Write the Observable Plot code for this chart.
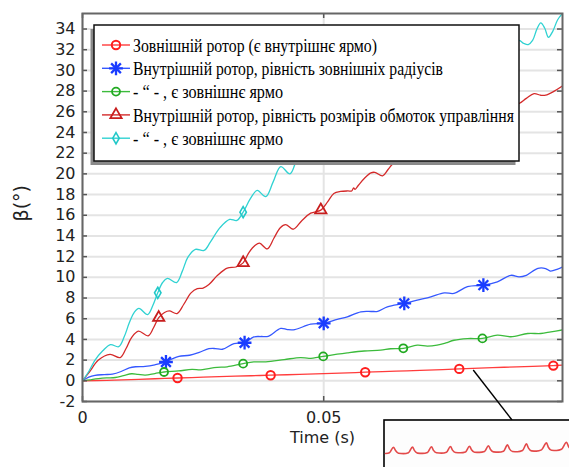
<!DOCTYPE html>
<html><head><meta charset="utf-8">
<script src="https://cdn.jsdelivr.net/npm/d3@7"></script>
<script src="https://cdn.jsdelivr.net/npm/@observablehq/plot@0.6"></script>
<style>
body{margin:0;background:#fff;}
#wrap{position:relative;width:569px;height:467px;overflow:hidden;background:#fff;}
.legtxt{position:absolute;white-space:nowrap;font-family:"Liberation Serif",serif;font-size:19px;line-height:19px;color:#000;transform-origin:0 50%;}
</style></head><body><div id="wrap"></div>
<script>
// ---- data (t in s, beta in degrees) ----
const seriesNames = [
  "Зовнішній ротор (є внутрішнє ярмо)",
  "Внутрішній ротор, рівність зовнішніх радіусів",
  "- \u201c - , є зовнішнє ярмо",
  "Внутрішній ротор, рівність розмірів обмоток управління",
  "- \u201c - , є зовнішнє ярмо"
];
const extRotor = [[0,0],[0.005,0.05],[0.010,0.12],[0.015,0.2],[0.0197,0.27],[0.025,0.35],[0.030,0.42],[0.035,0.49],[0.039,0.54],[0.045,0.62],[0.050,0.69],[0.055,0.77],[0.0586,0.83],[0.065,0.93],[0.070,1.01],[0.0781,1.15],[0.085,1.27],[0.090,1.35],[0.0976,1.47],[0.0995,1.51]];
const extRotorMarks = [[0.0197,0.27],[0.039,0.54],[0.0586,0.83],[0.0781,1.15],[0.0976,1.47]];

const intRadii = [[0,0],[0.0013,0.35],[0.0026,0.53],[0.0045,0.6],[0.0062,0.65],[0.0080,0.9],[0.0097,1.25],[0.0110,1.36],[0.0130,1.4],[0.0150,1.55],[0.0173,1.82],[0.0187,2.15],[0.0200,2.37],[0.0222,2.47],[0.0242,2.75],[0.0262,3.1],[0.0275,3.12],[0.0290,3.05],[0.0314,3.6],[0.0336,3.68],[0.0355,4.24],[0.0370,4.28],[0.0385,4.3],[0.0411,5.06],[0.0425,4.95],[0.0440,4.95],[0.0473,5.47],[0.0500,5.56],[0.0528,5.93],[0.0549,6.18],[0.0577,6.67],[0.0600,6.7],[0.0612,6.72],[0.0632,7.15],[0.0667,7.48],[0.0694,7.8],[0.0722,8.12],[0.0750,8.5],[0.0770,8.45],[0.0798,9.1],[0.0831,9.25],[0.0860,9.57],[0.0888,10.2],[0.0905,10.05],[0.0920,10.2],[0.0944,10.87],[0.0960,10.85],[0.0970,10.6],[0.0985,10.8],[0.0995,11.0]];
const intRadiiMarks = [[0.0173,1.82],[0.0336,3.68],[0.0500,5.56],[0.0667,7.48],[0.0831,9.25]];

const intRadiiYoke = [[0,0],[0.0015,0.1],[0.0033,0.21],[0.0050,0.28],[0.0068,0.32],[0.0085,0.5],[0.0102,0.68],[0.0115,0.62],[0.0130,0.55],[0.0150,0.7],[0.0169,0.85],[0.0199,0.95],[0.0227,1.1],[0.0245,1.05],[0.0261,1.18],[0.0279,1.3],[0.0300,1.35],[0.0333,1.66],[0.0355,1.82],[0.0380,1.83],[0.0418,2.05],[0.0452,2.25],[0.0470,2.17],[0.0499,2.36],[0.0528,2.57],[0.0549,2.7],[0.0584,2.88],[0.0618,2.96],[0.0639,3.1],[0.0665,3.14],[0.0694,3.44],[0.0715,3.36],[0.0735,3.45],[0.0753,3.66],[0.0770,3.92],[0.0798,4.08],[0.0829,4.1],[0.0860,4.41],[0.0888,4.26],[0.0923,4.57],[0.0950,4.57],[0.0971,4.73],[0.0995,4.92]];
const intRadiiYokeMarks = [[0.0169,0.85],[0.0333,1.66],[0.0499,2.36],[0.0665,3.14],[0.0829,4.1]];

const intWinding = [[0,0],[0.0015,0.9],[0.0033,2.0],[0.0057,2.55],[0.0078,2.25],[0.0090,3.1],[0.0102,4.2],[0.0116,4.8],[0.0136,4.35],[0.0147,5.1],[0.0158,6.1],[0.0170,6.6],[0.0180,6.75],[0.0196,6.5],[0.0210,7.4],[0.0225,8.5],[0.0238,8.9],[0.0250,8.95],[0.0262,9.3],[0.0280,10.2],[0.0300,10.9],[0.0318,11.0],[0.0333,11.4],[0.0345,12.4],[0.0358,13.1],[0.0367,13.3],[0.0383,12.75],[0.0397,13.8],[0.0410,14.8],[0.0421,15.1],[0.0437,14.65],[0.0455,15.5],[0.0473,16.2],[0.0494,16.5],[0.0508,17.3],[0.0521,18.1],[0.0535,18.3],[0.0550,18.35],[0.0558,18.35],[0.0562,18.65],[0.0565,18.5],[0.0572,18.9],[0.0585,19.6],[0.0598,20.1],[0.0606,20.15],[0.0622,19.8],[0.0633,20.4],[0.0645,21.1],[0.066,21.9],[0.068,22.3],[0.070,22.6],[0.072,23.4],[0.074,24.0],[0.076,24.2],[0.078,24.8],[0.080,25.3],[0.082,25.5],[0.084,25.9],[0.086,26.3],[0.088,26.4],[0.0905,26.8],[0.0920,27.3],[0.0936,27.75],[0.0950,27.6],[0.0960,27.6],[0.0978,28.0],[0.0995,28.5]];
const intWindingMarks = [[0.0158,6.1],[0.0333,11.4],[0.0494,16.5]];

const intWindingYoke = [[0,0],[0.0013,0.9],[0.0026,2.0],[0.0042,2.9],[0.0058,3.5],[0.0075,3.3],[0.0086,4.2],[0.0097,5.6],[0.0107,6.6],[0.0117,7.0],[0.0135,6.4],[0.0146,7.3],[0.0156,8.5],[0.0166,9.5],[0.0176,9.9],[0.0195,9.5],[0.0207,10.6],[0.0218,11.9],[0.0234,12.7],[0.0252,12.6],[0.0265,13.4],[0.0285,14.8],[0.0305,15.6],[0.0320,15.5],[0.0333,16.3],[0.0348,17.6],[0.0362,18.4],[0.0380,17.8],[0.0395,19.2],[0.0411,20.7],[0.0430,20.0],[0.0445,21.5],[0.0465,23.0],[0.0485,23.6],[0.050,24.2],[0.053,25.6],[0.055,26.0],[0.058,27.0],[0.061,27.8],[0.064,28.6],[0.067,29.2],[0.070,29.9],[0.073,30.5],[0.076,31.0],[0.079,31.5],[0.082,31.9],[0.085,32.3],[0.088,32.6],[0.0905,32.9],[0.0915,32.6],[0.0924,32.5],[0.0933,32.9],[0.0942,34.0],[0.0950,34.6],[0.0958,34.1],[0.0966,33.2],[0.0975,33.8],[0.0985,34.9],[0.0995,35.5]];
const intWindingYokeMarks = [[0.0156,8.5],[0.0333,16.3]];

// magnified detail (inset), position units along the inset and height units
const insetWave = [[0,14.0],[4,14.8],[8,20.3],[10,17],[13,14.3],[18,13.9],[23,14.8],[27,20.4],[29,16.9],[32,14.4],[37,14.1],[42,15.0],[46,20.7],[48,17.1],[51,14.7],[56,14.4],[61,15.3],[65,21.0],[67,17.4],[70,15.0],[75,14.8],[80,15.6],[84,21.3],[86,17.8],[89,15.3],[94,15.1],[99,15.9],[103,21.7],[105,18.0],[108,15.6],[113,15.4],[118,16.3],[122,22.6],[124,18.6],[127,16.0],[132,15.8],[137,16.9],[141,23.6],[143,19.4],[146,16.6],[151,16.4],[156,17.6],[161,24.6],[163,20.0],[166,17.2],[171,17.0],[176,18.2],[181,25.2],[183,21.0],[186,18.2]];

const yTicks = [-2,0,2,4,6,8,10,12,14,16,18,20,22,24,26,28,30,32,34];
const xTicks = [0, 0.05];
const xTickLabels = ["0", "0.05"];

// ---- styles ----
const colors = ["#ff3c3c", "#3558ff", "#3cbb3c", "#d42a2a", "#30d2d2"];
const markColors = ["#ff1e1e", "#1a3cff", "#22aa22", "#c81e1e", "#22c8c8"];

const W = 569, H = 467, ML = 82, MR = 7, MT = 13, MB = 66;
const innerW = W - ML - MR, innerH = H - MT - MB;
const rows = a => a.map(([t, v]) => ({t, v}));
const lines = [extRotor, intRadii, intRadiiYoke, intWinding, intWindingYoke];
const lineMarks = lines.map((s, i) => Plot.line(rows(s), {x: "t", y: "v", stroke: colors[i], strokeWidth: 1.3, curve: "catmull-rom", clip: true}));

const chart = Plot.plot({
  width: W, height: H, marginLeft: ML, marginRight: MR, marginTop: MT, marginBottom: MB,
  style: {fontFamily: "DejaVu Sans", fontSize: "16px", color: "#222", background: "white", overflow: "visible"},
  x: {domain: [0, 0.0995]},
  y: {domain: [-2, 35.5]},
  marks: [
    Plot.gridY(yTicks, {stroke: "#e4e4e4", strokeOpacity: 1, strokeWidth: 2}),
    Plot.gridX(xTicks, {stroke: "#e4e4e4", strokeOpacity: 1, strokeWidth: 2}),
    Plot.axisY(yTicks, {tickSize: 0, tickPadding: 7, tickFormat: d => String(d), label: null, fontSize: 16}),
    Plot.axisX(xTicks, {tickSize: 0, tickPadding: 10, tickFormat: d => xTickLabels[xTicks.indexOf(d)], label: null, fontSize: 16}),
    ...lineMarks,
    Plot.dot(rows(extRotorMarks), {x: "t", y: "v", symbol: "circle", r: 4.2, stroke: markColors[0], strokeWidth: 2, fill: "none"}),
    Plot.dot(rows(intRadiiMarks), {x: "t", y: "v", symbol: "plus", r: 4.5, stroke: markColors[1], strokeWidth: 2.3, fill: "none"}),
    Plot.dot(rows(intRadiiMarks), {x: "t", y: "v", symbol: "times", r: 4.5, stroke: markColors[1], strokeWidth: 2.3, fill: "none"}),
    Plot.dot(rows(intRadiiYokeMarks), {x: "t", y: "v", symbol: "circle", r: 4, stroke: markColors[2], strokeWidth: 1.8, fill: "none"}),
    Plot.dot(rows(intWindingMarks), {x: "t", y: "v", symbol: "triangle", r: 4.2, stroke: markColors[3], strokeWidth: 1.8, fill: "none"}),
    Plot.dot(rows(intWindingYokeMarks), {x: "t", y: "v", symbol: "diamond", r: 3.4, stroke: markColors[4], strokeWidth: 1.6, fill: "none"}),
    Plot.tickY(yTicks, {y: d => d, insetRight: innerW - 5, stroke: "#555", strokeWidth: 1.5}),
    Plot.tickY(yTicks, {y: d => d, insetLeft: innerW - 5, stroke: "#555", strokeWidth: 1.5}),
    Plot.tickX(xTicks, {x: d => d, insetTop: innerH - 5, stroke: "#555", strokeWidth: 1.5}),
    Plot.tickX(xTicks, {x: d => d, insetBottom: innerH - 5, stroke: "#555", strokeWidth: 1.5}),
    Plot.frame({stroke: "#666", strokeWidth: 2}),
    Plot.text(["Time (s)"], {text: d => d, frameAnchor: "bottom", dy: 36, lineAnchor: "middle", fontSize: 16, fill: "#222"}),
    Plot.text(["β(°)"], {text: d => d, frameAnchor: "left", dx: -61, dy: 14, rotate: -90, lineAnchor: "middle", fontSize: 19, fill: "#222"})
  ]
});

const wrap = document.getElementById("wrap");
wrap.appendChild(chart);
const svg = d3.select(chart);
const xs = chart.scale("x"), ys = chart.scale("y");

// ---- legend ----
const lg = svg.append("g");
const LX = 94, LY = 25, LW = 425, LH = 136;
lg.append("rect").attr("x", LX - 3.5).attr("y", LY + 4).attr("width", LW).attr("height", LH).attr("fill", "#8a8a8a");
lg.append("rect").attr("x", LX).attr("y", LY).attr("width", LW).attr("height", LH).attr("fill", "#fff").attr("stroke", "#111").attr("stroke-width", 1.5);
const rowY = [45, 68.3, 91.6, 114.9, 138.2];
const textW = [244, 310, 150, 381, 150];
const legSym = [
  {s: [d3.symbolCircle], r: 4.2, w: 2},
  {s: [d3.symbolPlus, d3.symbolTimes], r: 4.5, w: 2.3},
  {s: [d3.symbolCircle], r: 4, w: 1.8},
  {s: [d3.symbolTriangle], r: 4.2, w: 1.8},
  {s: [d3.symbolDiamond], r: 3.4, w: 1.6}
];
seriesNames.forEach((name, i) => {
  const y = rowY[i];
  lg.append("line").attr("x1", 102).attr("x2", 130).attr("y1", y).attr("y2", y).attr("stroke", colors[i]).attr("stroke-width", 1.4);
  legSym[i].s.forEach(sym => {
    lg.append("path").attr("transform", `translate(116,${y})`).attr("d", d3.symbol(sym, Math.PI * legSym[i].r * legSym[i].r)())
      .attr("fill", "none").attr("stroke", markColors[i]).attr("stroke-width", legSym[i].w);
  });
  const d = document.createElement("div");
  d.className = "legtxt";
  d.textContent = name;
  d.style.left = "133px";
  d.style.top = (y - 9.4) + "px";
  wrap.appendChild(d);
  const k = textW[i] / d.getBoundingClientRect().width;
  d.style.transform = `scaleX(${k})`;
});

// ---- inset with magnified detail ----
const IX = 384, IY = 420;
const ann = svg.append("g");
ann.append("line").attr("x1", xs.apply(0.0811)).attr("y1", ys.apply(1.0)).attr("x2", 512).attr("y2", IY)
  .attr("stroke", "#000").attr("stroke-width", 1.4);
ann.append("rect").attr("x", IX).attr("y", IY).attr("width", 220).attr("height", 80).attr("fill", "#fdfdfd").attr("stroke", "#000").attr("stroke-width", 1.6);
const inset = Plot.plot({
  width: 184, height: 46, margin: 0,
  style: {background: "transparent"},
  x: {domain: [0, 184], axis: null},
  y: {domain: [0, 46], axis: null},
  marks: [Plot.line(rows(insetWave), {x: "t", y: "v", stroke: "#e34a4a", strokeWidth: 1.6, curve: "monotone-x"})]
});
const ig = svg.append("g").attr("transform", `translate(${IX + 1},${IY + 1})`);
Array.from(inset.childNodes).forEach(n => { if (n.nodeName !== "style") ig.node().appendChild(n); });
</script></body></html>
